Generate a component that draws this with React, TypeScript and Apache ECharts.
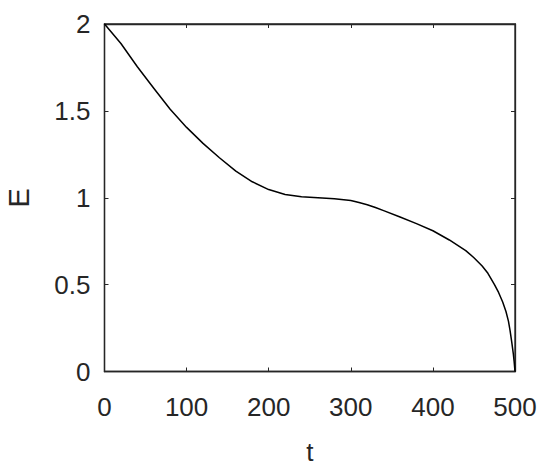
import React, { useEffect, useRef } from "react";
import * as echarts from "echarts";

const tValues = [0, 20, 40, 60, 80, 100, 120, 140, 160, 180, 200, 220, 240, 260, 280, 300, 310, 320, 330, 340, 360, 380, 400, 420, 440, 450, 460, 467, 475, 480, 485, 489, 492, 494, 496, 498, 499, 500];
const eValues = [2, 1.888, 1.754, 1.63, 1.509, 1.405, 1.313, 1.23, 1.153, 1.092, 1.047, 1.019, 1.006, 1.0, 0.994, 0.984, 0.973, 0.96, 0.944, 0.926, 0.889, 0.851, 0.81, 0.757, 0.696, 0.655, 0.607, 0.565, 0.5, 0.455, 0.4, 0.345, 0.29, 0.235, 0.17, 0.1, 0.055, 0];
const xTicks = [0, 100, 200, 300, 400, 500];
const yTicks = [0, 0.5, 1, 1.5, 2];

const FONT = "'Liberation Sans', Arial, sans-serif";
const INK = "#262626";

export default function App() {
  const ref = useRef<HTMLDivElement>(null);
  useEffect(() => {
    if (!ref.current) return;
    const chart = echarts.init(ref.current, undefined, { renderer: "svg" });
    const data = tValues.map((t, i) => [t, eValues[i]]);
    const axisCommon = {
      axisLine: { show: true, onZero: false, lineStyle: { color: INK, width: 1.3 } },
      axisTick: { show: true, inside: true, length: 4, lineStyle: { color: INK, width: 1 } },
      splitLine: { show: false },
    };
    chart.setOption({
      animation: false,
      backgroundColor: "#ffffff",
      grid: {
        left: 104.5, right: 35, top: 24, bottom: 103.5, containLabel: false,
        outerBoundsMode: "none",
        show: true, borderColor: INK, borderWidth: 1.3, backgroundColor: "transparent",
      },
      xAxis: [
        {
          type: "value",
          min: 0,
          max: 500,
          interval: 100,
          position: "bottom",
          name: "t",
          nameLocation: "middle",
          nameGap: 67,
          nameTextStyle: { fontFamily: FONT, fontSize: 26, color: INK },
          axisLabel: {
            fontFamily: FONT,
            fontSize: 26,
            color: INK,
            margin: 22,
            formatter: (v: number) => (xTicks.includes(v) ? String(v) : ""),
          },
          ...axisCommon,
        },
        {
          type: "value",
          min: 0,
          max: 500,
          interval: 100,
          position: "top",
          axisLabel: { show: false },
          ...axisCommon,
        },
      ],
      yAxis: [
        {
          type: "value",
          min: 0,
          max: 2,
          interval: 0.5,
          position: "left",
          name: "E",
          nameLocation: "middle",
          nameGap: 71,
          nameRotate: 90,
          nameTextStyle: { fontFamily: FONT, fontSize: 29, color: INK },
          axisLabel: {
            fontFamily: FONT,
            fontSize: 26,
            color: INK,
            margin: 14,
            formatter: (v: number) => (yTicks.includes(v) ? String(v) : ""),
          },
          ...axisCommon,
        },
        {
          type: "value",
          min: 0,
          max: 2,
          interval: 0.5,
          position: "right",
          axisLabel: { show: false },
          ...axisCommon,
        },
      ],
      series: [
        {
          type: "line",
          data,
          showSymbol: false,
          smooth: false,
          lineStyle: { color: "#000000", width: 1.5, join: "round" },
          clip: false,
        },
        {
          type: "line",
          xAxisIndex: 1,
          yAxisIndex: 1,
          data: [[0, 0]],
          showSymbol: false,
          lineStyle: { opacity: 0 },
          silent: true,
        },
      ],
    });
    return () => chart.dispose();
  }, []);
  return <div ref={ref} style={{ width: 550, height: 475, position: "absolute", left: 0, top: 0 }} />;
}
